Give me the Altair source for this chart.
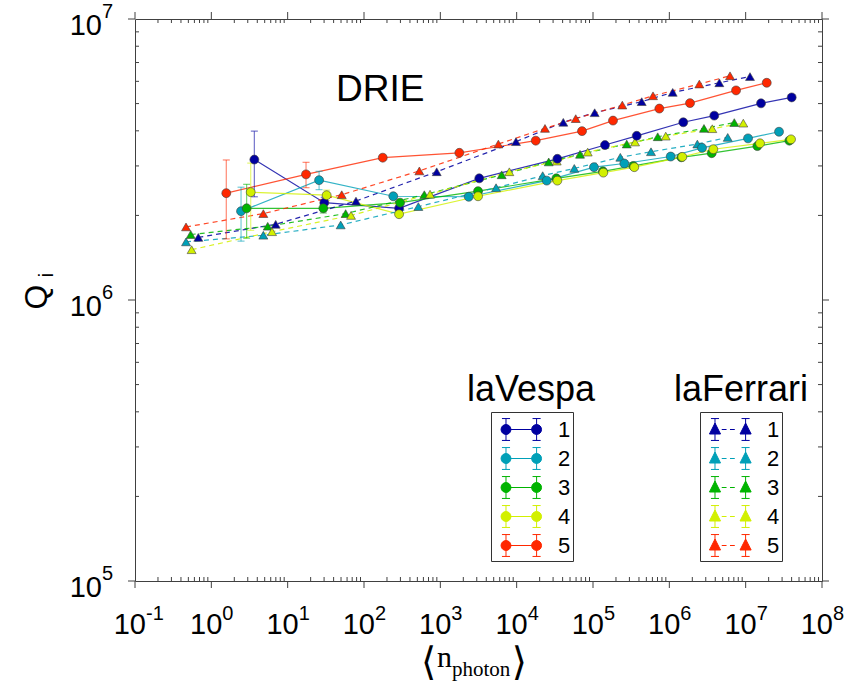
import altair as alt
import pandas as pd

# ---------------- data ----------------
labels = ["1", "2", "3", "4", "5"]
colors = ["#0000a0", "#00a0b8", "#00b400", "#d2f000", "#ff2800"]

# laVespa (circles, solid lines) -- Q in units of 1e6, error in 1e6
v1_x = [3.66, 30.2, 288, 3236, 34120, 143500, 374000, 1.524e6, 3.88e6, 1.589e7, 4.01e7]
v1_y = [3.16, 2.22, 2.12, 2.71, 3.18, 3.56, 3.84, 4.29, 4.53, 5.01, 5.26]
v1_e = [0.83, 0.10, 0, 0, 0, 0, 0, 0, 0, 0, 0]

v2_x = [2.45, 25.8, 242, 2355, 24770, 103000, 257000, 1.042e6, 2.68e6, 1.074e7, 2.735e7]
v2_y = [2.07, 2.67, 2.34, 2.33, 2.66, 2.97, 3.06, 3.24, 3.48, 3.76, 3.97]
v2_e = [0.45, 0.20, 0, 0, 0, 0, 0, 0, 0, 0, 0]

v3_x = [2.90, 29.3, 297, 3119, 33110, 134900, 337300, 1.436e6, 3.59e6, 1.422e7, 3.733e7]
v3_y = [2.12, 2.12, 2.22, 2.44, 2.71, 2.87, 3.00, 3.22, 3.33, 3.53, 3.69]
v3_e = [0.46, 0.08, 0, 0, 0, 0, 0, 0, 0, 0, 0]

v4_x = [3.28, 32.4, 288, 3119, 34120, 136500, 347500, 1.479e6, 3.767e6, 1.542e7, 3.926e7]
v4_y = [2.42, 2.36, 2.02, 2.34, 2.66, 2.84, 2.97, 3.23, 3.44, 3.61, 3.73]
v4_e = [0.65, 0.10, 0, 0, 0, 0, 0, 0, 0, 0, 0]

v5_x = [1.57, 17.4, 176, 1774, 17780, 71780, 182800, 739600, 1.866e6, 7.482e6, 1.888e7]
v5_y = [2.40, 2.80, 3.21, 3.34, 3.69, 3.99, 4.35, 4.80, 5.02, 5.57, 5.93]
v5_e = [0.75, 0.29, 0, 0, 0, 0, 0, 0, 0, 0, 0]

# laFerrari (triangles, dashed lines)
f1_x = [0.675, 6.97, 78.5, 897, 9795, 40830, 105200, 434500, 1.107e6, 4.519e6, 1.14e7]
f1_y = [1.67, 1.86, 2.25, 2.86, 3.66, 4.29, 4.64, 5.08, 5.48, 5.93, 6.24]

f2_x = [0.466, 4.80, 49.5, 515, 5370, 21930, 56890, 228000, 575400, 2.328e6, 5.821e6]
f2_y = [1.61, 1.70, 1.85, 2.15, 2.51, 2.77, 2.94, 3.22, 3.37, 3.59, 3.79]

f3_x = [0.537, 5.48, 57.5, 617, 6368, 26300, 67610, 276700, 704700, 2.844e6, 7.096e6]
f3_y = [1.71, 1.83, 2.03, 2.37, 2.79, 3.10, 3.30, 3.59, 3.81, 4.08, 4.28]

f4_x = [0.552, 6.24, 67.6, 733, 8017, 33500, 85310, 355600, 897500, 3.656e6, 9.311e6]
f4_y = [1.51, 1.75, 2.00, 2.38, 2.86, 3.12, 3.36, 3.65, 3.83, 4.07, 4.26]

f5_x = [0.466, 4.80, 51.1, 531, 5754, 23500, 59430, 242100, 611000, 2.472e6, 6.237e6]
f5_y = [1.82, 2.03, 2.37, 2.88, 3.59, 4.08, 4.42, 4.94, 5.33, 5.87, 6.28]

# axis ticks
x_exps = [-1, 0, 1, 2, 3, 4, 5, 6, 7, 8]
y_exps = [5, 6, 7]

# ---------------- tables ----------------
def build(xs, ys, es):
    rows = []
    for lab, x, y, e in zip(labels, xs, ys, es):
        for xi, yi, ei in zip(x, y, e):
            rows.append({"res": lab, "n": xi, "q": yi * 1e6,
                         "lo": (yi - ei) * 1e6, "hi": (yi + ei) * 1e6, "e": ei})
    return pd.DataFrame(rows)

dv = build([v1_x, v2_x, v3_x, v4_x, v5_x], [v1_y, v2_y, v3_y, v4_y, v5_y],
           [v1_e, v2_e, v3_e, v4_e, v5_e])
df = build([f1_x, f2_x, f3_x, f4_x, f5_x], [f1_y, f2_y, f3_y, f4_y, f5_y],
           [[0] * len(f1_x)] * 5)
dv_err = dv[dv["e"] > 0]

xmaj = pd.DataFrame({"v": [10.0 ** e for e in x_exps], "b": "10", "p": [str(e) for e in x_exps]})
xmin = pd.DataFrame({"v": [k * 10.0 ** d for d in range(-1, 8) for k in range(2, 10)]})
ymaj = pd.DataFrame({"v": [10.0 ** e for e in y_exps], "b": "10", "p": [str(e) for e in y_exps]})
ymin = pd.DataFrame({"v": [k * 10.0 ** d for d in range(5, 7) for k in range(2, 10)]})

W, H = 687, 562
FONT = "Liberation Sans"
TICK = "#404040"

xs = alt.Scale(type="log", domain=[0.1, 1e8], nice=False)
ys = alt.Scale(type="log", domain=[1e5, 1e7], nice=False)


def X(f="n"):
    return alt.X(f"{f}:Q", scale=xs, axis=None)


def Y(f="q"):
    return alt.Y(f"{f}:Q", scale=ys, axis=None)


def C():
    return alt.Color("res:N", scale=alt.Scale(domain=labels, range=colors), legend=None)


# ---------------- legend symbols (custom paths) ----------------
def fmt(v):
    return f"{v:.3f}"


def legend_path(kind):
    s = 0.853
    c1, c2 = s - 1.02, s + 1.02
    e, cap = 0.73, 0.27
    p = ""
    if kind == "circle":
        p += f"M{fmt(c1)},0L{fmt(c2)},0"
    else:
        a = c1 + 0.45
        while a < c2 - 0.5:
            b = min(a + 0.32, c2 - 0.45)
            p += f"M{fmt(a)},0L{fmt(b)},0"
            a += 0.55
    for c in (c1, c2):
        p += (f"M{fmt(c)},{fmt(-e)}L{fmt(c)},{fmt(e)}"
              f"M{fmt(c - cap)},{fmt(-e)}L{fmt(c + cap)},{fmt(-e)}"
              f"M{fmt(c - cap)},{fmt(e)}L{fmt(c + cap)},{fmt(e)}")
    for c in (c1, c2):
        if kind == "circle":
            r = 0.33
            p += (f"M{fmt(c - r)},0A{r},{r} 0 1,0 {fmt(c + r)},0"
                  f"A{r},{r} 0 1,0 {fmt(c - r)},0Z")
        else:
            p += (f"M{fmt(c)},-0.43L{fmt(c + 0.37)},0.30L{fmt(c - 0.37)},0.30Z")
    return p


def make_legend(kind, lx):
    return alt.Legend(
        title=None, orient="none", legendX=lx, legendY=393,
        symbolType=legend_path(kind), symbolSize=900, symbolStrokeWidth=1,
        symbolOpacity=1, symbolFillColor="#ffffff", symbolStrokeColor="#ffffff",
        labelFont=FONT, labelFontSize=22, labelColor="black", labelOffset=34,
        labelExpr="datum.label + '\u00a0'",
        padding=2, rowPadding=0, strokeColor="#333333", fillColor="white",
    )


# ---------------- layers ----------------
v_lines = alt.Chart(dv).mark_line(strokeWidth=1.2, opacity=0.8).encode(x=X(), y=Y(), color=C())
f_lines = alt.Chart(df).mark_line(strokeWidth=1.2, opacity=0.85, strokeDash=[5, 4]).encode(
    x=X(), y=Y(), color=C())
v_err = alt.Chart(dv_err).mark_errorbar(ticks=True, size=7, thickness=1.2, opacity=0.55).encode(
    x=X(), y=Y("lo"), y2="hi:Q", color=C())
f_pts = alt.Chart(df).mark_point(filled=True, shape="triangle-up", size=80, stroke="#404040",
                                 strokeWidth=0.6, opacity=1).encode(x=X(), y=Y(), color=C())
v_pts = alt.Chart(dv).mark_point(filled=True, shape="circle", size=80, stroke="#404040",
                                 strokeWidth=0.6, opacity=1).encode(x=X(), y=Y(), color=C())

leg_v = alt.Chart(dv).mark_point(opacity=0).encode(
    x=X(), y=Y(),
    fill=alt.Fill("res:N", scale=alt.Scale(range=colors), legend=make_legend("circle", 356)),
    stroke=alt.Stroke("res:N", scale=alt.Scale(range=colors), legend=make_legend("circle", 356)))
leg_f = alt.Chart(df).mark_point(opacity=0).encode(
    x=X(), y=Y(),
    fill=alt.Fill("res:N", scale=alt.Scale(range=colors), legend=make_legend("tri", 565)),
    stroke=alt.Stroke("res:N", scale=alt.Scale(range=colors), legend=make_legend("tri", 565)))

# ticks: major outward, minor inward, on all four sides
tk = dict(color=TICK, strokeWidth=1)
ticks = [
    alt.Chart(xmaj).mark_rule(**tk).encode(x=X("v"), y=alt.value(H), y2=alt.value(H + 7)),
    alt.Chart(xmaj).mark_rule(**tk).encode(x=X("v"), y=alt.value(0), y2=alt.value(-7)),
    alt.Chart(xmin).mark_rule(**tk).encode(x=X("v"), y=alt.value(H), y2=alt.value(H - 4)),
    alt.Chart(xmin).mark_rule(**tk).encode(x=X("v"), y=alt.value(0), y2=alt.value(4)),
    alt.Chart(ymaj).mark_rule(**tk).encode(y=Y("v"), x=alt.value(0), x2=alt.value(-7)),
    alt.Chart(ymaj).mark_rule(**tk).encode(y=Y("v"), x=alt.value(W), x2=alt.value(W + 7)),
    alt.Chart(ymin).mark_rule(**tk).encode(y=Y("v"), x=alt.value(0), x2=alt.value(4)),
    alt.Chart(ymin).mark_rule(**tk).encode(y=Y("v"), x=alt.value(W), x2=alt.value(W - 4)),
]

# tick labels  10^k
tick_labels = [
    alt.Chart(xmaj).mark_text(font=FONT, fontSize=29, align="right", baseline="alphabetic",
                              dx=11, color="black").encode(x=X("v"), y=alt.value(615), text="b:N"),
    alt.Chart(xmaj).mark_text(font=FONT, fontSize=20, align="left", baseline="alphabetic",
                              dx=11, color="black").encode(x=X("v"), y=alt.value(601), text="p:N"),
    alt.Chart(ymaj).mark_text(font=FONT, fontSize=29, align="right", baseline="alphabetic",
                              dy=16, color="black").encode(y=Y("v"), x=alt.value(-33), text="b:N"),
    alt.Chart(ymaj).mark_text(font=FONT, fontSize=20, align="left", baseline="alphabetic",
                              dy=-1, color="black").encode(y=Y("v"), x=alt.value(-33), text="p:N"),
]


def note(txt, x, y, size, align="left", font=FONT, angle=None, baseline="alphabetic"):
    kw = dict(font=font, fontSize=size, align=align, baseline=baseline, color="black")
    if angle is not None:
        kw["angle"] = angle
    return alt.Chart(pd.DataFrame({"t": [txt]})).mark_text(**kw).encode(
        x=alt.value(x), y=alt.value(y), text="t:N")


SERIF = "Liberation Serif"
BR = "DejaVu Serif, DejaVu Sans"
texts = [
    note("DRIE", 201, 82, 37),
    note("laVespa", 396, 382, 36, align="center"),
    note("laFerrari", 606, 382, 36, align="center"),
    note("Q", -98, 278, 32, align="center", angle=270, baseline="middle"),
    note("i", -88, 256, 20, align="center", angle=270, baseline="middle"),
    note("\u27e8", 286, 656, 39, font=BR),
    note("n", 302, 648, 30, font=SERIF),
    note("photon", 317, 657, 21, font=SERIF),
    note("\u27e9", 392, 656, 39, align="right", font=BR),
]

chart = alt.layer(
    *ticks, v_lines, f_lines, v_err, f_pts, v_pts, leg_v, leg_f, *tick_labels, *texts
).resolve_scale(
    color="independent", fill="independent", stroke="independent"
).properties(
    width=W, height=H,
    autosize=alt.AutoSizeParams(type="none"),
    padding={"left": 135, "top": 19, "right": 26, "bottom": 103},
    background="white",
).configure_view(stroke="#404040", strokeWidth=1)

chart.save("out.html", embed_options={"renderer": "svg", "actions": False})
